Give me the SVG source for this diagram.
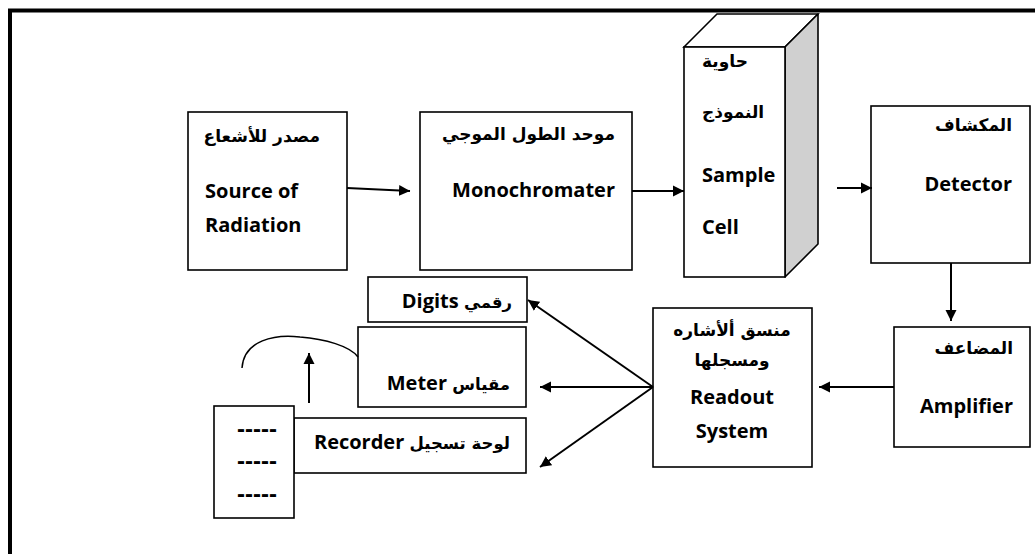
<svg xmlns="http://www.w3.org/2000/svg" width="1035" height="554" viewBox="0 0 1035 554">
  <defs>
    <marker id="arrow" markerWidth="12" markerHeight="12" refX="11" refY="6" orient="auto" markerUnits="userSpaceOnUse">
      <path d="M0,0.5 L11,6 L0,11.5 Z" fill="#000"/>
    </marker>
    <style>
      .box { fill: #fff; stroke: #000; stroke-width: 1.6; }
      .side { fill: #d0d0d0; stroke: #000; stroke-width: 1.6; stroke-linejoin: round; }
      .frame { stroke: #000; stroke-width: 4; fill: none; }
      .link { stroke: #000; stroke-width: 2; fill: none; }
      .arc { stroke: #000; stroke-width: 1.5; fill: none; }
      .en { font-family: "Open Sans", "DejaVu Sans", sans-serif; font-weight: bold; font-size: 20px; fill: #000; }
      .ar { font-family: "DejaVu Sans", sans-serif; font-weight: bold; font-size: 17px; fill: #000; }
      .mix { font-family: "Open Sans", "DejaVu Sans", sans-serif; font-weight: bold; font-size: 20px; fill: #000; }
      .mix .arp { font-family: "DejaVu Sans", sans-serif; font-size: 16.5px; }
      .dash { font-family: "Liberation Sans", sans-serif; font-weight: bold; font-size: 24px; fill: #000; }
    </style>
  </defs>

  <rect width="1035" height="554" fill="#fff"/>

  <!-- page frame: only top and left edges are inside the sheet -->
  <path class="frame" d="M10,556 V10.5 H1040"/>

  <g id="source">
    <rect class="box" x="188" y="112" width="159" height="158"/>
    <text class="ar" x="320" y="142" text-anchor="end">مصدر للأشعاع</text>
    <text class="en" x="205" y="198">Source of</text>
    <text class="en" x="205" y="232">Radiation</text>
  </g>

  <g id="monochromator">
    <rect class="box" x="420" y="112" width="212" height="158"/>
    <text class="ar" x="615" y="140" text-anchor="end">موحد الطول الموجي</text>
    <text class="en" x="615" y="197" text-anchor="end">Monochromater</text>
  </g>

  <g id="sample-cell">
    <polygon class="box" points="684,47 717,14 818,14 785,47"/>
    <polygon class="side" points="785,47 818,14 818,244 785,277"/>
    <rect class="box" x="684" y="47" width="101" height="230"/>
    <text class="ar" x="702" y="67">حاوية</text>
    <text class="ar" x="702" y="118">النموذج</text>
    <text class="en" x="702" y="182">Sample</text>
    <text class="en" x="702" y="234">Cell</text>
  </g>

  <g id="detector">
    <rect class="box" x="871" y="106" width="159" height="157"/>
    <text class="ar" x="1012" y="131" text-anchor="end">المكشاف</text>
    <text class="en" x="1012" y="191" text-anchor="end">Detector</text>
  </g>

  <g id="amplifier">
    <rect class="box" x="894" y="327" width="136" height="120"/>
    <text class="ar" x="1013" y="354" text-anchor="end">المضاعف</text>
    <text class="en" x="1013" y="413" text-anchor="end">Amplifier</text>
  </g>

  <g id="readout">
    <rect class="box" x="653" y="308" width="159" height="159"/>
    <text class="ar" x="732" y="336" text-anchor="middle">منسق ألأشاره</text>
    <text class="ar" x="732" y="366" text-anchor="middle">ومسجلها</text>
    <text class="en" x="732" y="404" text-anchor="middle">Readout</text>
    <text class="en" x="732" y="438" text-anchor="middle">System</text>
  </g>

  <g id="digits">
    <rect class="box" x="368" y="277" width="159" height="45"/>
    <text class="mix" x="512" y="308" direction="rtl" unicode-bidi="embed" text-anchor="start"><tspan class="arp">رقمي</tspan> Digits</text>
  </g>

  <g id="meter">
    <rect class="box" x="358" y="327" width="168" height="80"/>
    <text class="mix" x="510" y="390" direction="rtl" unicode-bidi="embed" text-anchor="start"><tspan class="arp">مقياس</tspan> Meter</text>
  </g>

  <g id="recorder">
    <rect class="box" x="294" y="418" width="232" height="55"/>
    <text class="mix" x="510" y="449" direction="rtl" unicode-bidi="embed" text-anchor="start"><tspan class="arp">لوحة تسجيل</tspan> Recorder</text>
  </g>

  <g id="chart-paper">
    <rect class="box" x="214" y="406" width="80" height="112"/>
    <text class="dash" x="237" y="437">-----</text>
    <text class="dash" x="237" y="469">-----</text>
    <text class="dash" x="237" y="502">-----</text>
  </g>

  <g id="connectors">
    <line class="link" x1="347" y1="188" x2="410" y2="191" marker-end="url(#arrow)"/>
    <line class="link" x1="632" y1="191" x2="684" y2="191" marker-end="url(#arrow)"/>
    <line class="link" x1="837" y1="188" x2="872" y2="188" marker-end="url(#arrow)"/>
    <line class="link" x1="951" y1="263" x2="951" y2="321" marker-end="url(#arrow)"/>
    <line class="link" x1="894" y1="387" x2="819" y2="387" marker-end="url(#arrow)"/>
    <line class="link" x1="653" y1="387" x2="528" y2="300" marker-end="url(#arrow)"/>
    <line class="link" x1="653" y1="387" x2="540" y2="387" marker-end="url(#arrow)"/>
    <line class="link" x1="653" y1="387" x2="540" y2="467" marker-end="url(#arrow)"/>
    <line class="link" x1="309" y1="403" x2="309" y2="353" marker-end="url(#arrow)"/>
    <path class="arc" d="M242,368 C244,340 275,334 300,337 C325,339 350,346 358,357"/>
  </g>
</svg>
